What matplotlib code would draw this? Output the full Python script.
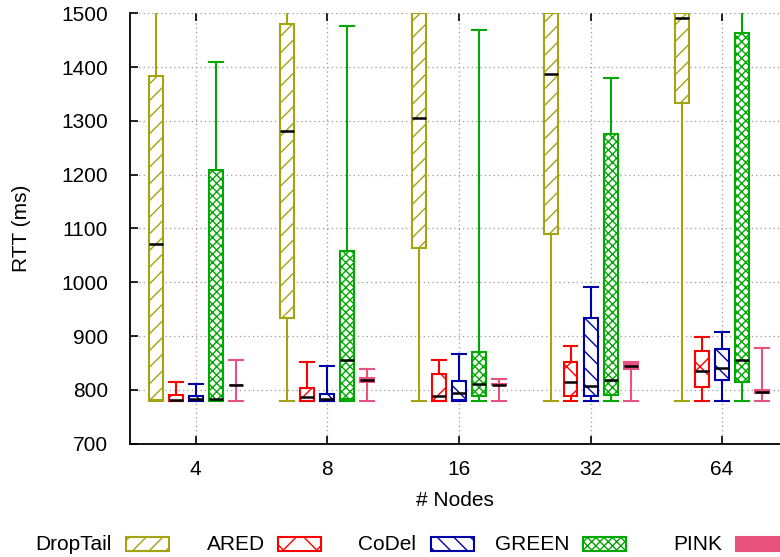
import matplotlib
matplotlib.use("Agg")
import matplotlib.pyplot as plt
from matplotlib.patches import Rectangle
import numpy as np

plt.rcParams['font.family'] = ['Liberation Sans', 'DejaVu Sans']
plt.rcParams['hatch.linewidth'] = 1.0

groups = ['4', '8', '16', '32', '64']
methods = ['DropTail', 'ARED', 'CoDel', 'GREEN', 'PINK']
colors = ['#a3a314', '#ff0000', '#0000a8', '#00a800', '#e8527e']
hatches = ['//', 'x', '\\\\', 'xxxx', '']

droptail_min = [780, 780, 780, 780, 780]
droptail_q1 = [781, 934, 1063, 1090, 1334]
droptail_med = [1071, 1282, 1305, 1387, 1492]
droptail_q3 = [1384, 1480, 1500, 1500, 1500]
droptail_max = [1600, 1600, 1600, 1600, 1600]

ared_min = [780, 780, 780, 780, 780]
ared_q1 = [780, 780, 780, 788, 806]
ared_med = [782, 786, 789, 815, 835]
ared_q3 = [791, 804, 829, 851, 873]
ared_max = [814, 851, 855, 881, 899]

codel_min = [780, 780, 780, 780, 780]
codel_q1 = [780, 780, 781, 789, 818]
codel_med = [784, 784, 794, 808, 841]
codel_q3 = [789, 793, 817, 933, 876]
codel_max = [811, 845, 866, 992, 907]

green_min = [780, 780, 780, 780, 780]
green_q1 = [780, 784, 788, 791, 815]
green_med = [784, 856, 811, 819, 856]
green_q3 = [1208, 1059, 871, 1276, 1463]
green_max = [1409, 1476, 1469, 1380, 1600]

pink_min = [780, 780, 780, 780, 780]
pink_q1 = [809, 815, 809, 839, 795]
pink_med = [809, 819, 810, 845, 797]
pink_q3 = [809, 823, 811, 851, 799]
pink_max = [856, 838, 821, 851, 878]

series = [
    (droptail_min, droptail_q1, droptail_med, droptail_q3, droptail_max),
    (ared_min, ared_q1, ared_med, ared_q3, ared_max),
    (codel_min, codel_q1, codel_med, codel_q3, codel_max),
    (green_min, green_q1, green_med, green_q3, green_max),
    (pink_min, pink_q1, pink_med, pink_q3, pink_max),
]

fig = plt.figure(figsize=(7.8, 5.57), dpi=100)
ax = fig.add_axes([130/780, 1 - 443.7/557, 1 - 130/780, (443.7 - 13.3)/557])

base = np.arange(1, len(groups) + 1)
step = 0.152
width = 0.106
for i, (name, col, h, s) in enumerate(zip(methods, colors, hatches, series)):
    stats = []
    for j in range(len(groups)):
        stats.append(dict(whislo=s[0][j], q1=s[1][j], med=s[2][j], q3=s[3][j],
                          whishi=s[4][j], fliers=[]))
    pos = base + (i - 2) * step
    fc = col if name == 'PINK' else 'white'
    ax.bxp(stats, positions=pos, widths=width, capwidths=width,
           patch_artist=True, showfliers=False, manage_ticks=False,
           boxprops=dict(facecolor=fc, edgecolor=col, hatch=h, linewidth=1.5),
           whiskerprops=dict(color=col, linewidth=1.5),
           capprops=dict(color=col, linewidth=1.5),
           medianprops=dict(color='black', linewidth=1.8),
           zorder=3)

ax.set_xlim(0.5, 5.44)
ax.set_ylim(700, 1500)
ax.set_xticks(base)
ax.set_xticklabels(groups)
ax.set_yticks(np.arange(700, 1501, 100))
ax.tick_params(axis='both', direction='in', length=6, width=1.2, labelsize=15,
               colors='black')
ax.tick_params(axis='x', top=True, pad=12)
ax.tick_params(axis='y', pad=16)
ax.grid(True, color='#999999', linestyle=(0, (1, 2.5)), linewidth=0.9, zorder=0)
ax.set_axisbelow(True)
for sp in ['top', 'right']:
    ax.spines[sp].set_visible(False)
for sp in ['left', 'bottom']:
    ax.spines[sp].set_linewidth(1.3)

ax.set_ylabel('RTT (ms)', fontsize=15)
ax.set_xlabel('# Nodes', fontsize=15)
ax.yaxis.set_label_coords((22 - 130) / 650, 0.5)
ax.xaxis.set_label_coords(0.5, (443.7 - 500) / 430.4)
ax.yaxis.label.set_va('center')
ax.xaxis.label.set_va('center')

# legend
text_ends = [112, 265, 416, 570, 722]
sw_starts = [126, 278, 431, 583, 736]
ly = 544
for name, col, h, te, ss in zip(methods, colors, hatches, text_ends, sw_starts):
    fig.text(te / 780, 1 - ly / 557, name, ha='right', va='center', fontsize=15)
    fc = col if name == 'PINK' else 'white'
    r = Rectangle((ss / 780, 1 - 551 / 557), 43 / 780, 14 / 557,
                  transform=fig.transFigure, facecolor=fc, edgecolor=col,
                  hatch=h, linewidth=1.5)
    fig.add_artist(r)

fig.savefig('out.png', dpi=100)
